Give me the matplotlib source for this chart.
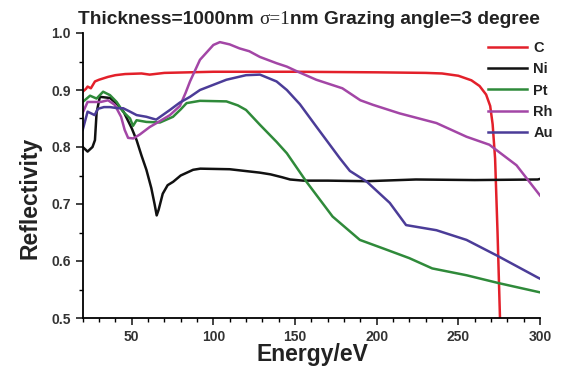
import matplotlib
matplotlib.use("Agg")
import matplotlib.pyplot as plt
from matplotlib.ticker import MultipleLocator
from matplotlib.offsetbox import TextArea, HPacker, AnchoredOffsetbox

plt.rcParams['font.family'] = ['Liberation Sans', 'DejaVu Sans']

# ---- data ----
C_E = [20, 22, 23, 25, 27.5, 30, 35.5, 40, 46, 56, 61, 70, 100, 150, 200, 230, 240,
       250, 258, 263, 267, 269.5, 271, 272.5, 274, 275.5, 276.5]
C_R = [0.897, 0.902, 0.906, 0.903, 0.915, 0.918, 0.923, 0.926, 0.928, 0.929, 0.927, 0.93,
       0.932, 0.932, 0.931, 0.93, 0.929, 0.925, 0.917, 0.907, 0.892, 0.872, 0.84, 0.78,
       0.65, 0.5, 0.42]

Ni_E = [20, 23, 26, 27.5, 28.5, 30.5, 36.7, 40.8, 45, 50, 53, 56, 59, 62, 64, 65.3, 66.5,
        69, 72, 75.4, 80, 87.6, 92, 110, 128.5, 135, 142, 147, 155, 170, 194, 224, 260,
        298.6, 300]
Ni_R = [0.80, 0.792, 0.80, 0.812, 0.86, 0.888, 0.886, 0.876, 0.862, 0.833, 0.812, 0.785,
        0.76, 0.728, 0.70, 0.68, 0.69, 0.718, 0.733, 0.739, 0.75, 0.76, 0.762, 0.761,
        0.755, 0.752, 0.747, 0.743, 0.741, 0.741, 0.740, 0.743, 0.742, 0.743, 0.744]

Pt_E = [20, 24.5, 28.5, 32.5, 36.7, 40.8, 44.7, 49, 50.8, 53, 59, 67.3, 75.3, 80, 83.6,
        91.8, 108, 115, 120, 128.5, 138.7, 145, 157, 173, 189.7, 204, 220, 234, 255, 275,
        300]
Pt_R = [0.879, 0.89, 0.885, 0.897, 0.891, 0.879, 0.862, 0.85, 0.837, 0.847, 0.844, 0.843,
        0.853, 0.866, 0.877, 0.881, 0.88, 0.873, 0.865, 0.839, 0.809, 0.789, 0.739, 0.678,
        0.637, 0.622, 0.605, 0.587, 0.575, 0.561, 0.545]

Rh_E = [20, 23, 31, 35.5, 39.6, 43.5, 45.7, 47.8, 51, 55, 61, 67, 73.4, 79.5, 83, 85.7,
        91.8, 100, 104, 110, 116, 122, 128.5, 138.7, 145, 151, 163, 179, 190, 197.7, 214,
        236.6, 255, 269, 285.6, 300]
Rh_R = [0.86, 0.879, 0.879, 0.882, 0.874, 0.853, 0.83, 0.816, 0.815, 0.822, 0.835, 0.845,
        0.856, 0.872, 0.895, 0.915, 0.953, 0.979, 0.984, 0.98, 0.973, 0.968, 0.958, 0.947,
        0.941, 0.933, 0.918, 0.903, 0.882, 0.874, 0.859, 0.842, 0.818, 0.804, 0.768, 0.715]

Au_E = [20, 23, 27.3, 29.3, 33, 36.7, 41.6, 44.8, 49, 53, 59, 65, 73.4, 79.5, 85.7, 91.8,
        108, 120, 128.5, 138.7, 145, 153, 163, 177.5, 183.6, 194, 208, 218, 236.6, 255,
        274, 298.6, 300]
Au_R = [0.83, 0.862, 0.856, 0.867, 0.87, 0.87, 0.868, 0.868, 0.862, 0.856, 0.853, 0.848,
        0.865, 0.878, 0.888, 0.9, 0.918, 0.926, 0.927, 0.915, 0.90, 0.875, 0.836, 0.78,
        0.758, 0.739, 0.702, 0.663, 0.654, 0.637, 0.609, 0.571, 0.569]

series = [("C", C_E, C_R, "#e3202a"),
          ("Ni", Ni_E, Ni_R, "#111111"),
          ("Pt", Pt_E, Pt_R, "#2f8a3a"),
          ("Rh", Rh_E, Rh_R, "#a346a6"),
          ("Au", Au_E, Au_R, "#4b3c98")]

fig = plt.figure(figsize=(5.67, 3.66), dpi=100)
ax = fig.add_axes([82.7 / 567, 48 / 366, (540 - 82.7) / 567, (318 - 33) / 366])

for name, e, r, col in series:
    ax.plot(e, r, color=col, lw=1.8, label=name, solid_joinstyle='round')

ax.set_xlim(20, 300)
ax.set_ylim(0.5, 1.0)
ax.xaxis.set_major_locator(MultipleLocator(50))
ax.xaxis.set_minor_locator(MultipleLocator(10))
ax.yaxis.set_major_locator(MultipleLocator(0.1))
ax.yaxis.set_minor_locator(MultipleLocator(0.05))
ax.yaxis.set_major_formatter(matplotlib.ticker.FormatStrFormatter('%.1f'))
ax.spines['top'].set_visible(False)
ax.spines['right'].set_visible(False)
for s in ('left', 'bottom'):
    ax.spines[s].set_linewidth(1.3)
ax.tick_params(which='major', direction='out', length=5, width=1.2, labelsize=10)
ax.tick_params(which='minor', direction='out', length=3, width=1.0)
ax.tick_params(axis='both', colors='#222222', labelcolor='#333333')
for lab in ax.get_xticklabels() + ax.get_yticklabels():
    lab.set_fontweight('bold')

fig.text(312 / 567, 1 - 361 / 366, "Energy/eV", ha='center', va='baseline',
         fontsize=16.5, fontweight='bold', color='#222222')
fig.text(30 / 567, 1 - 198 / 366, "Reflectivity", ha='center', va='center',
         rotation=90, fontsize=16.5, fontweight='bold', color='#222222')

# title composed of pieces (sigma part in serif)
tsize = 13.8
t1 = TextArea("Thickness=1000nm ", textprops=dict(fontsize=tsize, fontweight='bold', color='#222222'))
t2 = TextArea("σ=1", textprops=dict(fontsize=tsize, family=['Liberation Serif', 'DejaVu Serif'], color='#222222'))
t3 = TextArea("nm Grazing angle=3 degree", textprops=dict(fontsize=tsize, fontweight='bold', color='#222222'))
box = HPacker(children=[t1, t2, t3], align='baseline', pad=0, sep=0)
anch = AnchoredOffsetbox(loc='center', child=box, pad=0, frameon=False,
                         bbox_to_anchor=(309 / 567, 1 - 19 / 366),
                         bbox_transform=fig.transFigure, borderpad=0)
fig.add_artist(anch)

leg = ax.legend(loc='upper left', bbox_to_anchor=(488 / 567, 1 - 41 / 366),
                bbox_transform=fig.transFigure, frameon=False, borderpad=0,
                borderaxespad=0, handlelength=2.7, handletextpad=0.4,
                labelspacing=0.5, prop=dict(weight='bold', size=10.5))
for t in leg.get_texts():
    t.set_color('#222222')

fig.savefig("out.png", dpi=100)
